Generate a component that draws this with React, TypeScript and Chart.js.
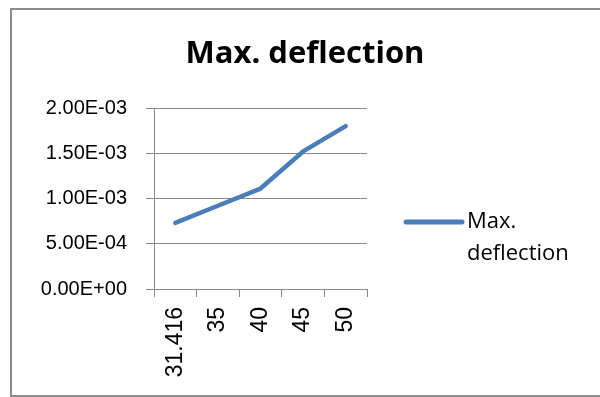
import React, { useEffect, useRef } from "react";
import { Chart, registerables } from "chart.js";

Chart.register(...registerables);

// Span lengths (category labels) and the maximum deflection measured for each
const categories = ["31.416", "35", "40", "45", "50"];
const deflection = [0.00073, 0.00092, 0.00111, 0.00152, 0.0018];
const yTicks = [0, 0.0005, 0.001, 0.0015, 0.002];
const seriesName = "Max. deflection";

const TEXT_FONT = "'Open Sans', 'DejaVu Sans', sans-serif";
const TICK_FONT = "'Liberation Sans', Arial, sans-serif";
const LINE_COLOR = "#4A7EBB";
const GRID_COLOR = "#888888";

// Scientific notation with a two-digit exponent, e.g. 5.00E-04
function sci(v: number): string {
  if (v === 0) return "0.00E+00";
  const [m, e] = v.toExponential(2).split("e");
  const exp = parseInt(e, 10);
  const sign = exp < 0 ? "-" : "+";
  const digits = String(Math.abs(exp)).padStart(2, "0");
  return `${m}E${sign}${digits}`;
}

// Title centred over the whole chart, legend beside the plot with the
// series name wrapped onto two lines
const titleAndLegend = {
  id: "titleAndLegend",
  afterDraw(chart: any) {
    const { ctx, chartArea } = chart;
    const ds = chart.data.datasets[0];

    ctx.save();
    ctx.fillStyle = "#000";
    ctx.font = `bold 31px ${TEXT_FONT}`;
    ctx.textAlign = "center";
    ctx.textBaseline = "middle";
    ctx.fillText(ds.label, 305, 54);

    const words: string[] = String(ds.label).split(" ");
    const x0 = chartArea.right + 39;
    const y0 = chartArea.top + 114;
    ctx.strokeStyle = ds.borderColor;
    ctx.lineWidth = 5;
    ctx.lineCap = "round";
    ctx.beginPath();
    ctx.moveTo(x0, y0);
    ctx.lineTo(x0 + 56, y0);
    ctx.stroke();
    ctx.font = `22px ${TEXT_FONT}`;
    ctx.textAlign = "left";
    words.forEach((w, i) => ctx.fillText(w, x0 + 61, y0 + i * 32));
    ctx.restore();
  },
};

export default function App() {
  const canvasRef = useRef<HTMLCanvasElement | null>(null);

  useEffect(() => {
    const canvas = canvasRef.current;
    if (!canvas) return;
    const chart = new Chart(canvas, {
      type: "line",
      data: {
        labels: categories,
        datasets: [
          {
            label: seriesName,
            data: deflection,
            borderColor: LINE_COLOR,
            backgroundColor: LINE_COLOR,
            borderWidth: 4.5,
            borderCapStyle: "round",
            borderJoinStyle: "round",
            pointRadius: 0,
            tension: 0,
            fill: false,
          },
        ],
      },
      options: {
        responsive: false,
        maintainAspectRatio: false,
        animation: false,
        layout: { padding: { left: 0, right: 233, top: 108, bottom: 0 } },
        plugins: {
          legend: { display: false },
          tooltip: { enabled: false },
          title: { display: false },
        },
        scales: {
          x: {
            type: "category",
            offset: true,
            afterFit(scale: any) {
              scale.height = 108;
            },
            grid: {
              offset: true,
              drawOnChartArea: false,
              drawTicks: true,
              tickLength: 8,
              color: GRID_COLOR,
            },
            border: { color: GRID_COLOR, width: 1 },
            ticks: {
              minRotation: 90,
              maxRotation: 90,
              autoSkip: false,
              padding: 10,
              color: "#000",
              font: { family: TICK_FONT, size: 23 },
            },
          },
          y: {
            min: 0,
            max: 0.002,
            afterFit(scale: any) {
              scale.width = 154;
            },
            afterBuildTicks(scale: any) {
              scale.ticks = yTicks.map((v) => ({ value: v }));
            },
            grid: {
              color: GRID_COLOR,
              tickLength: 8,
              drawTicks: true,
            },
            border: { color: GRID_COLOR, width: 1 },
            ticks: {
              padding: 19,
              color: "#000",
              font: { family: TICK_FONT, size: 20 },
              callback: (v: any) => sci(Number(v)),
            },
          },
        },
      },
      plugins: [titleAndLegend],
    });
    return () => chart.destroy();
  }, []);

  return (
    <div
      style={{
        position: "fixed",
        left: 0,
        top: 0,
        width: 600,
        height: 397,
        overflow: "hidden",
        background: "#fff",
      }}
    >
      <div
        style={{
          position: "absolute",
          left: 10,
          top: 8,
          width: 700,
          height: 389,
          border: "2px solid #8c8c8c",
          boxSizing: "border-box",
        }}
      />
      <canvas
        ref={canvasRef}
        width={600}
        height={397}
        style={{ position: "absolute", left: 0, top: 0, width: 600, height: 397 }}
      />
    </div>
  );
}
